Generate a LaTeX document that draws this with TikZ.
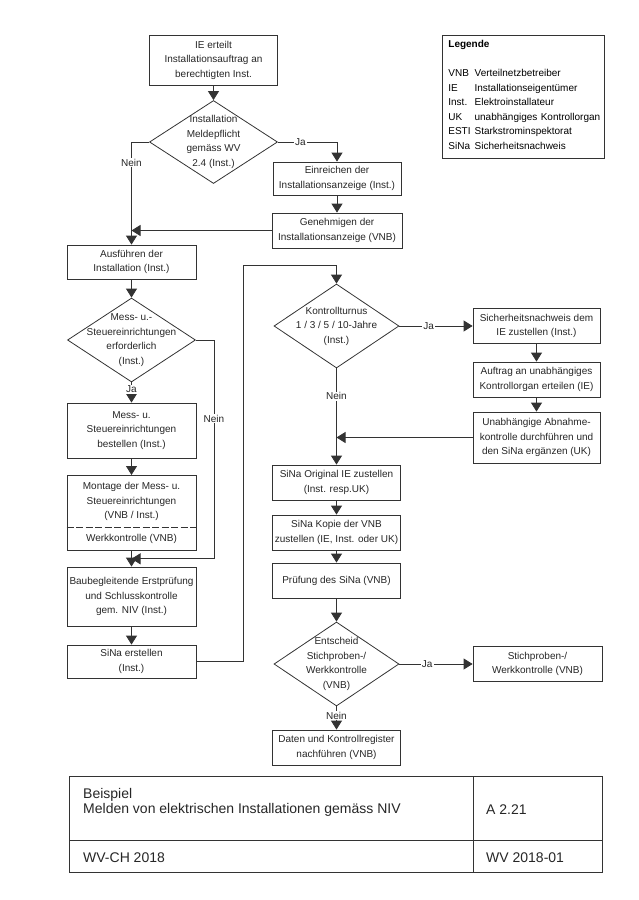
\documentclass[tikz,border=0pt]{standalone}
\usepackage{fontspec}
\setmainfont{Liberation Sans}
\usetikzlibrary{shapes.geometric, shapes.multipart, arrows.meta, calc}
\colorlet{cLine}{black!80}
\colorlet{cText}{black!85}
\newcommand{\boxfont}{\fontsize{10}{14.5}\selectfont}
\newcommand{\footfont}{\fontsize{14}{15}\selectfont}
\tikzset{
  flowbox/.style={draw=cLine, line width=0.8pt, rectangle, align=center, font=\boxfont,
                  text=cText, minimum width=128pt, inner sep=1pt},
  decision/.style={draw=cLine, line width=0.8pt, diamond, aspect=1.5, inner sep=-12pt,
                   align=center, font=\boxfont, text=cText, minimum width=128pt, minimum height=84pt},
  flowarrow/.style={draw=cLine, line width=0.8pt, -{Triangle[length=9pt,width=11pt]}},
  answer/.style={font=\boxfont, text=cText, fill=white, inner sep=1pt},
  foottext/.style={font=\footfont, text=cText, inner sep=0pt, anchor=base west}
}

\begin{document}
\begin{tikzpicture}[x=1pt, y=-1pt]
  \useasboundingbox (0,0) rectangle (639,900);
  % Linke Spalte
  \node[flowbox, minimum height=50pt] (start) at (213.5,60) {IE erteilt\\Installationsauftrag an\\berechtigten Inst.};
  \node[decision, minimum width=128pt, minimum height=83pt] (dec1) at (213.5,142) {Installation\\Meldepflicht\\gemäss WV\\2.4 (Inst.)};
  \node[flowbox, minimum height=33pt] (einreichen) at (337,178.5) {Einreichen der\\Installationsanzeige (Inst.)};
  \node[flowbox, minimum height=35pt, minimum width=130pt] (genehmigen) at (337,230.5) {Genehmigen der\\Installationsanzeige (VNB)};
  \node[flowbox, minimum height=34pt, minimum width=129pt] (ausfuehren) at (131.5,262) {Ausführen der\\Installation (Inst.)};
  \node[decision] (dec2) at (131.5,340) {Mess- u.-\\Steuereinrichtungen\\erforderlich\\(Inst.)};
  \node[flowbox, minimum height=55pt, minimum width=129pt] (bestellen) at (131.5,430.5) {Mess- u.\\Steuereinrichtungen\\bestellen (Inst.)};
  \node[flowbox, minimum width=129pt, anchor=north, inner ysep=6.5pt,
        rectangle split, rectangle split parts=2, rectangle split draw splits=false,
        rectangle split part align={center}] (montage) at (131.5,475)
        {Montage der Mess- u.\\Steuereinrichtungen\\(VNB / Inst.)\nodepart{two}Werkkontrolle (VNB)};
  \draw[draw=cLine, line width=0.8pt, dash pattern=on 7pt off 2.5pt]
        (montage.text split west) -- (montage.text split east);
  \node[flowbox, minimum height=59pt, minimum width=129pt] (baubegl) at (131.5,596.5) {Baubegleitende Erstprüfung\\und Schlusskontrolle\\gem. NIV (Inst.)};
  \node[flowbox, minimum height=33pt, minimum width=129pt] (sinaerst) at (131.5,661.5) {SiNa erstellen\\(Inst.)};
  % Rechte Spalten
  \node[decision, minimum width=125pt] (dec3) at (336.5,326) {Kontrollturnus\\1 / 3 / 5 / 10-Jahre\\(Inst.)};
  \node[flowbox, minimum height=35pt, minimum width=127pt] (sicher) at (536.5,326) {Sicherheitsnachweis dem\\IE zustellen (Inst.)};
  \node[flowbox, minimum height=35pt, minimum width=127pt] (auftrag) at (536.5,379.5) {Auftrag an unabhängiges\\Kontrollorgan erteilen (IE)};
  \node[flowbox, minimum height=51pt, minimum width=127pt] (abnahme) at (536.5,437.5) {Unabhängige Abnahme-\\kontrolle durchführen und\\den SiNa ergänzen (UK)};
  \node[flowbox, minimum height=35pt] (original) at (336.5,482.5) {SiNa Original IE zustellen\\(Inst. resp.UK)};
  \node[flowbox, minimum height=35pt] (kopie) at (336.5,532.5) {SiNa Kopie der VNB\\zustellen (IE, Inst. oder UK)};
  \node[flowbox, minimum height=35pt] (pruefung) at (336.5,580.5) {Prüfung des SiNa (VNB)};
  \node[decision, minimum width=125pt] (dec4) at (336.5,664) {Entscheid\\Stichproben-/\\Werkkontrolle\\(VNB)};
  \node[flowbox, minimum height=35pt, minimum width=129pt] (stich) at (537.5,664) {Stichproben-/\\Werkkontrolle (VNB)};
  \node[flowbox, minimum height=35pt] (daten) at (336.5,747.5) {Daten und Kontrollregister\\nachführen (VNB)};
  % Hilfspunkte
  \coordinate (j2) at ($(montage.south)!0.5!(baubegl.north)$);
  \coordinate (top3) at ($(dec3.north)+(0,-18)$);
  % Verbindungen
  \draw[flowarrow] (start) -- (dec1);
  \draw[flowarrow] (dec1.east) -| node[answer, pos=0.19] {Ja} (einreichen.north);
  \draw[flowarrow] (einreichen) -- (genehmigen);
  \draw[flowarrow] (dec1.west) -| node[answer, pos=0.6] {Nein} (ausfuehren.north);
  \draw[flowarrow] (genehmigen.west) -- (genehmigen.west -| ausfuehren.north);
  \draw[flowarrow] (ausfuehren) -- (dec2);
  \draw[flowarrow] (dec2.south) -- node[answer, pos=0.35] {Ja} (bestellen.north);
  \draw[flowarrow] (bestellen) -- (montage);
  \draw[flowarrow] (montage) -- (baubegl);
  \draw[flowarrow] (dec2.east) -- ++(18,0) |- node[answer, pos=0.18] {Nein} (j2);
  \draw[flowarrow] (baubegl) -- (sinaerst);
  \draw[flowarrow] (sinaerst.east) -- ++(47,0) |- (top3) -- (dec3.north);
  \draw[flowarrow] (dec3.east) -- node[answer, pos=0.4] {Ja} (sicher.west);
  \draw[flowarrow] (sicher) -- (auftrag);
  \draw[flowarrow] (auftrag) -- (abnahme);
  \draw[flowarrow] (dec3.south) -- node[answer, pos=0.29] {Nein} (original.north);
  \draw[flowarrow] (abnahme.west) -- (abnahme.west -| dec3.south);
  \draw[flowarrow] (original) -- (kopie);
  \draw[flowarrow] (kopie) -- (pruefung);
  \draw[flowarrow] (pruefung) -- (dec4);
  \draw[flowarrow] (dec4.east) -- node[answer, pos=0.38] {Ja} (stich.west);
  \draw[flowarrow] (dec4.south) -- node[answer, pos=0.4] {Nein} (daten.north);
  % Legende
  \node[draw=cLine, line width=0.8pt, anchor=north west, minimum width=162pt, minimum height=123pt,
        inner xsep=6pt, text width=150pt, align=left, font=\boxfont] (legende) at (442,35)
        {\textbf{Legende}\\[14.5pt]
         \begin{tabular}[t]{@{}l@{\hspace{4pt}}l@{}}
           VNB & Verteilnetzbetreiber\\
           IE & Installationseigentümer\\
           Inst. & Elektroinstallateur\\
           UK & unabhängiges Kontrollorgan\\
           ESTI & Starkstrominspektorat\\
           SiNa & Sicherheitsnachweis
         \end{tabular}};
  % Fusszeile
  \draw[draw=cLine, line width=0.8pt] (69,776) rectangle (602,872);
  \draw[draw=cLine, line width=0.8pt] (69,840) -- (602,840);
  \draw[draw=cLine, line width=0.8pt] (473,776) -- (473,872);
  \node[foottext] (beispiel) at (83,798) {Beispiel};
  \node[foottext] (titel) at (83,813) {Melden von elektrischen Installationen gemäss NIV};
  \node[foottext] (nummer) at (486,814) {A 2.21};
  \node[foottext] (ausgabe) at (83,862) {WV-CH 2018};
  \node[foottext] (version) at (486,862) {WV 2018-01};
\end{tikzpicture}
\end{document}
